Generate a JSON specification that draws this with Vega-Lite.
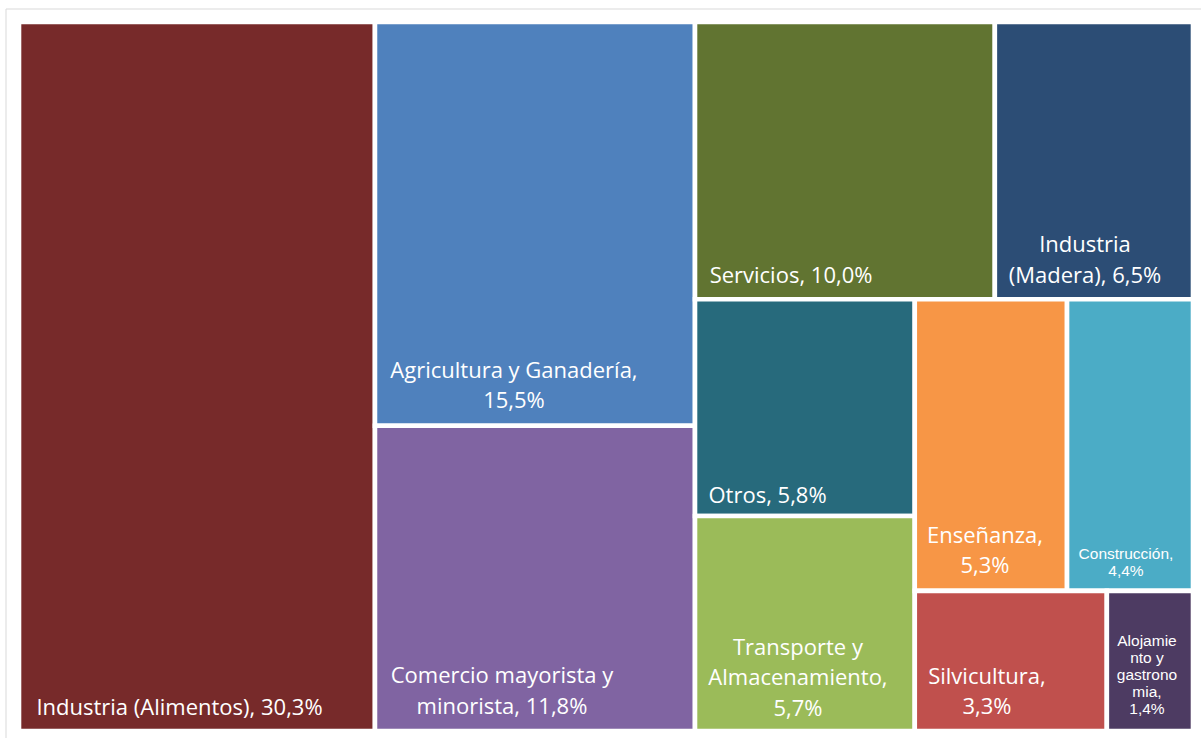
{
  "$schema": "https://vega.github.io/schema/vega-lite/v6.json",
  "width": 1195.5,
  "height": 729.5,
  "autosize": {"type": "none"},
  "padding": {"left": 5.5, "top": 8.5, "right": 0, "bottom": 0},
  "background": "white",
  "config": {"view": {"stroke": "#d9d9d9", "strokeWidth": 1}},
  "data": {
    "values": [
      {"cat": "Industria (Alimentos)", "pct": 30.3, "x0": 0, "x1": 30.32, "y0": 0, "y1": 100, "label": "Industria (Alimentos), 30,3%", "lx": 13.67, "ly": 97.74},
      {"cat": "Agricultura y Ganadería", "pct": 15.5, "x0": 30.32, "x1": 57.58, "y0": 0, "y1": 56.95, "label": "Agricultura y Ganadería,\n15,5%", "lx": 42.16, "ly": 50.21},
      {"cat": "Comercio mayorista y minorista", "pct": 11.8, "x0": 30.32, "x1": 57.58, "y0": 56.95, "y1": 100, "label": "Comercio mayorista y\nminorista, 11,8%", "lx": 41.14, "ly": 93.23},
      {"cat": "Servicios", "pct": 10.0, "x0": 57.58, "x1": 83.12, "y0": 0, "y1": 39.11, "label": "Servicios, 10,0%", "lx": 65.76, "ly": 36.81},
      {"cat": "Industria (Madera)", "pct": 6.5, "x0": 83.12, "x1": 100, "y0": 0, "y1": 39.11, "label": "Industria\n(Madera), 6,5%", "lx": 90.8, "ly": 32.44},
      {"cat": "Otros", "pct": 5.8, "x0": 57.58, "x1": 76.3, "y0": 39.11, "y1": 69.68, "label": "Otros, 5,8%", "lx": 63.76, "ly": 67.84},
      {"cat": "Transporte y Almacenamiento", "pct": 5.7, "x0": 57.58, "x1": 76.3, "y0": 69.68, "y1": 100, "label": "Transporte y\nAlmacenamiento,\n5,7%", "lx": 66.35, "ly": 89.28},
      {"cat": "Enseñanza", "pct": 5.3, "x0": 76.3, "x1": 89.27, "y0": 39.11, "y1": 80.23, "label": "Enseñanza,\n5,3%", "lx": 82.28, "ly": 73.48},
      {"cat": "Construcción", "pct": 4.4, "x0": 89.27, "x1": 100, "y0": 39.11, "y1": 80.23, "label": "Construcción,\n4,4%", "lx": 94.29, "ly": 75.74},
      {"cat": "Silvicultura", "pct": 3.3, "x0": 76.3, "x1": 92.66, "y0": 80.23, "y1": 100, "label": "Silvicultura,\n3,3%", "lx": 82.45, "ly": 93.37},
      {"cat": "Alojamiento y gastronomía", "pct": 1.4, "x0": 92.66, "x1": 100, "y0": 80.23, "y1": 100, "label": "Alojamie\nnto y\ngastrono\nmia,\n1,4%", "lx": 96.08, "ly": 88.01}
    ]
  },
  "layer": [
    {
      "mark": {"type": "rect", "stroke": "white", "strokeWidth": 4.6},
      "encoding": {
        "x": {"field": "x0", "type": "quantitative", "scale": {"domain": [-1.1499, 100.681], "nice": false, "zero": false}, "axis": null},
        "x2": {"field": "x1"},
        "y": {"field": "y0", "type": "quantitative", "scale": {"domain": [-1.9041, 100.987], "nice": false, "zero": false, "reverse": true}, "axis": null},
        "y2": {"field": "y1"},
        "color": {
          "field": "cat",
          "type": "nominal",
          "scale": {
            "domain": ["Industria (Alimentos)", "Agricultura y Ganadería", "Comercio mayorista y minorista", "Servicios", "Industria (Madera)", "Otros", "Transporte y Almacenamiento", "Enseñanza", "Construcción", "Silvicultura", "Alojamiento y gastronomía"],
            "range": ["#772A2A", "#4F81BD", "#8064A2", "#617431", "#2C4D75", "#276A7C", "#9BBB59", "#F79646", "#4BACC6", "#C0504D", "#4D3B62"]
          },
          "legend": null
        },
        "tooltip": [{"field": "cat", "type": "nominal"}, {"field": "pct", "type": "quantitative"}]
      }
    },
    {
      "transform": [{"filter": "datum.cat !== 'Construcción' && datum.cat !== 'Alojamiento y gastronomía'"}],
      "mark": {"type": "text", "font": "Open Sans", "fontSize": 22, "lineHeight": 30.5, "lineBreak": "\n", "align": "center", "baseline": "alphabetic", "color": "white"},
      "encoding": {
        "x": {"field": "lx", "type": "quantitative"},
        "y": {"field": "ly", "type": "quantitative"},
        "text": {"field": "label", "type": "nominal"}
      }
    },
    {
      "transform": [{"filter": "datum.cat === 'Construcción' || datum.cat === 'Alojamiento y gastronomía'"}],
      "mark": {"type": "text", "font": "Liberation Sans", "fontSize": 15.5, "lineHeight": 17, "lineBreak": "\n", "align": "center", "baseline": "alphabetic", "color": "white"},
      "encoding": {
        "x": {"field": "lx", "type": "quantitative"},
        "y": {"field": "ly", "type": "quantitative"},
        "text": {"field": "label", "type": "nominal"}
      }
    }
  ]
}
